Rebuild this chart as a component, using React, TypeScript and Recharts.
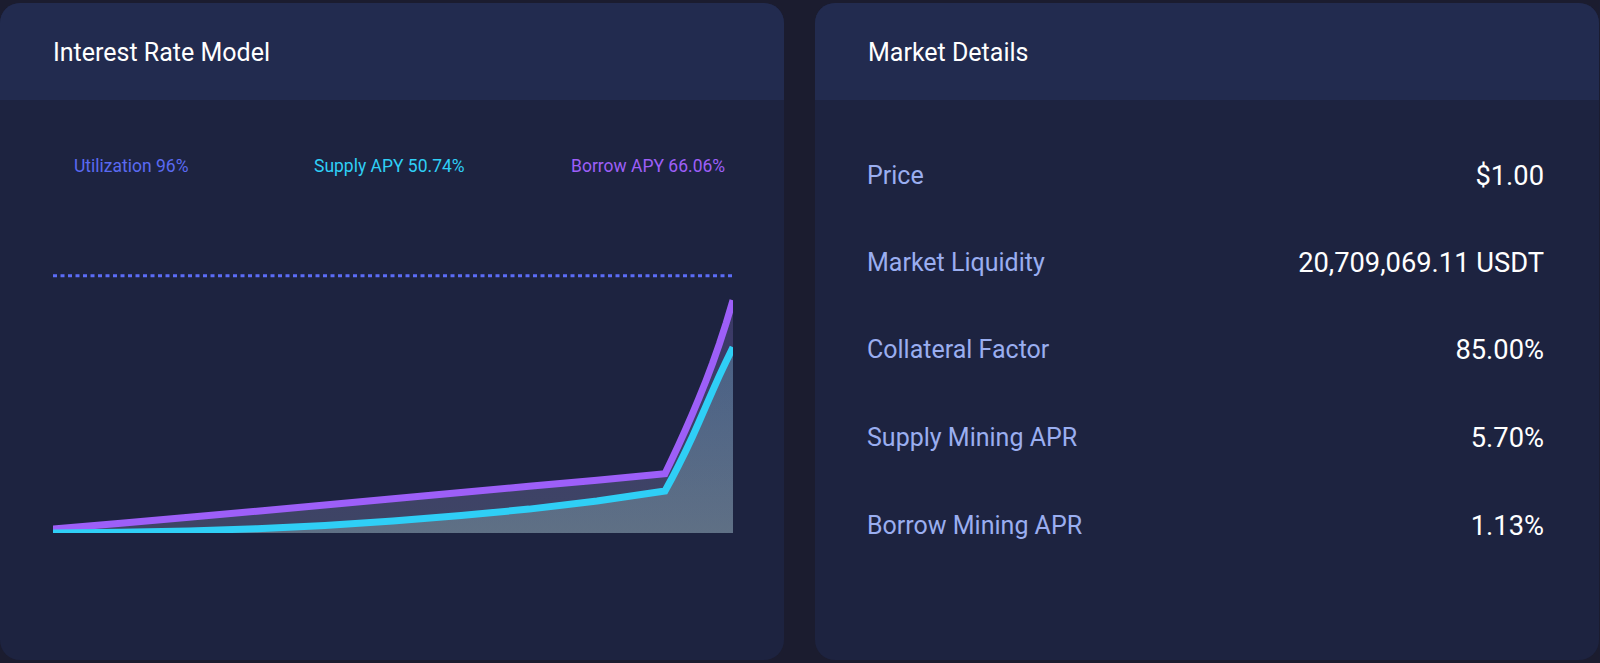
import { ComposedChart, Area, XAxis, YAxis, ReferenceLine } from "recharts";

// utilization (%) on x, APY (%) on y
const utilization = [0, 10, 20, 30, 40, 50, 60, 70, 80, 90, 91, 92, 93, 94, 95, 96, 97, 98, 99, 100];
const borrowApy = [1.7, 4.2, 6.9, 9.5, 12.2, 14.9, 17.6, 20.3, 23.0, 25.8, 32.0, 38.3, 44.8, 51.6, 58.7, 66.06, 73.9, 82.3, 91.4, 101.3];
const supplyApy = [0, 0.3, 0.9, 1.9, 3.3, 5.2, 7.6, 10.4, 13.9, 18.3, 23.7, 29.4, 35.4, 41.7, 48.3, 55.1, 61.9, 68.5, 74.8, 80.8];
const markerLevel = 112;

const legendItems = [
  { text: "Utilization 96%", color: "#5a6af2", left: 74 },
  { text: "Supply APY 50.74%", color: "#2fcff6", left: 314 },
  { text: "Borrow APY 66.06%", color: "#9d5ff8", left: 571 },
];

const detailLabels = ["Price", "Market Liquidity", "Collateral Factor", "Supply Mining APR", "Borrow Mining APR"];
const detailValues = ["$1.00", "20,709,069.11 USDT", "85.00%", "5.70%", "1.13%"];
const rowCenters = [174.5, 262, 349, 437, 524.5];

const rows = utilization.map((u, i) => ({ u, borrow: borrowApy[i], supply: supplyApy[i] }));

const FONT = "Roboto, 'Noto Sans', sans-serif";

function Card({ left, title, children }: { left: number; title: string; children?: any }) {
  return (
    <div
      style={{
        position: "absolute",
        left,
        top: 3,
        width: 784,
        height: 657,
        borderRadius: 20,
        overflow: "hidden",
        background: "#1d2340",
      }}
    >
      <div style={{ position: "absolute", left: 0, top: 0, right: 0, height: 97, background: "#222b4f" }} />
      <div
        style={{
          position: "absolute",
          left: 53,
          top: 50 - 15,
          lineHeight: "30px",
          fontSize: 25,
          color: "#ffffff",
        }}
      >
        {title}
      </div>
      {children}
    </div>
  );
}

export default function App() {
  return (
    <div style={{ position: "relative", width: 1600, height: 663, background: "#1b1c2f", fontFamily: FONT, overflow: "hidden" }}>
      <style>{"body{margin:0}"}</style>

      <Card left={0} title="Interest Rate Model">
        {legendItems.map((l) => (
          <div
            key={l.text}
            style={{ position: "absolute", left: l.left, top: 163 - 10, lineHeight: "20px", fontSize: 17.5, color: l.color }}
          >
            {l.text}
          </div>
        ))}
        <div style={{ position: "absolute", left: 53, top: 252 }}>
          <ComposedChart width={680} height={278} data={rows} margin={{ top: 0, right: 0, bottom: 0, left: 0 }}>
            <defs>
              <linearGradient id="borrowFill" x1="0" y1="0" x2="0" y2="1">
                <stop offset="0%" stopColor="#ae8cfe" stopOpacity={0.2} />
                <stop offset="100%" stopColor="#8b94bb" stopOpacity={0.3} />
              </linearGradient>
              <linearGradient id="supplyFill" x1="0" y1="0" x2="0" y2="1">
                <stop offset="0%" stopColor="#74d2df" stopOpacity={0.25} />
                <stop offset="100%" stopColor="#acd4d0" stopOpacity={0.3} />
              </linearGradient>
            </defs>
            <XAxis dataKey="u" type="number" domain={[0, 100]} hide />
            <YAxis type="number" domain={[0, 121]} hide />
            <ReferenceLine y={markerLevel} stroke="#5b6cf6" strokeWidth={3} strokeDasharray="4 3.5" />
            <Area
              type="linear"
              dataKey="borrow"
              stroke="#9d5ff8"
              strokeWidth={7}
              fill="url(#borrowFill)"
              fillOpacity={1}
              isAnimationActive={false}
            />
            <Area
              type="linear"
              dataKey="supply"
              stroke="#2fcff6"
              strokeWidth={7}
              fill="url(#supplyFill)"
              fillOpacity={1}
              isAnimationActive={false}
            />
          </ComposedChart>
        </div>
      </Card>

      <Card left={815} title="Market Details">
        {detailLabels.map((label, i) => (
          <div key={label}>
            <div
              style={{
                position: "absolute",
                left: 52,
                top: rowCenters[i] - 2 - 16,
                lineHeight: "32px",
                fontSize: 25,
                color: "#9aaef0",
              }}
            >
              {label}
            </div>
            <div
              style={{
                position: "absolute",
                right: 55,
                top: rowCenters[i] - 2 - 16,
                lineHeight: "32px",
                fontSize: 27.3,
                color: "#ffffff",
              }}
            >
              {detailValues[i]}
            </div>
          </div>
        ))}
      </Card>
    </div>
  );
}
